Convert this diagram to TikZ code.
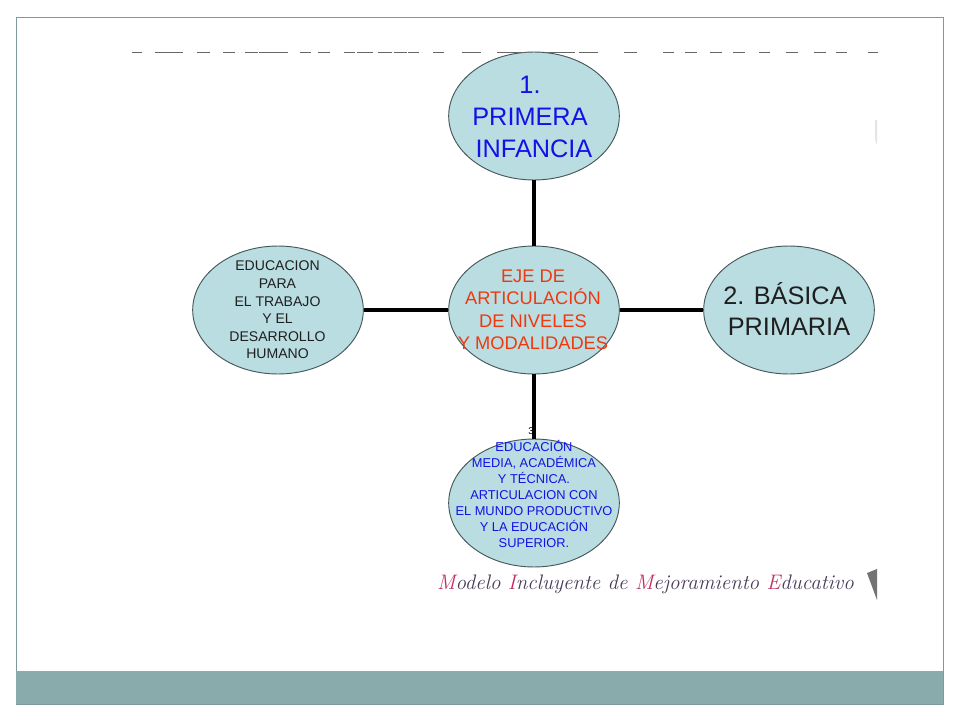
\documentclass[tikz,border=0pt]{standalone}
\usepackage{fontspec}
\setmainfont{Liberation Sans}
\newfontfamily\captionfont{Latin Modern Roman}
\usepackage{tikz}
\usetikzlibrary{shapes.geometric}
\definecolor{bubblefill}{HTML}{B9DDE1}
\definecolor{bubbleline}{HTML}{47585A}
\definecolor{framecolor}{HTML}{7F9A9C}
\definecolor{bandcolor}{HTML}{8AABAB}
\definecolor{bluetext}{HTML}{1212E6}
\definecolor{redtext}{HTML}{F0380F}
\definecolor{pinktext}{HTML}{C22F63}
\definecolor{darktext}{HTML}{4A3A5A}
\newcommand{\sz}[2]{\fontsize{#1}{#2}\selectfont}
\tikzset{
  bubble/.style={ellipse, draw=bubbleline, line width=1pt, fill=bubblefill,
    minimum width=6.4cm, minimum height=4.8cm, inner sep=0pt},
  spoke/.style={line width=4.2pt, black},
  cut/.style={line width=0.8pt, black!60},
  bigtext/.style={align=center, inner sep=0pt, font=\sz{27}{34}},
  midtext/.style={align=center, inner sep=0pt, font=\sz{19.5}{24}},
  lefttext/.style={align=center, inner sep=0pt, font=\sz{15}{18.8}},
  lowtext/.style={align=center, inner sep=0pt, font=\sz{13.7}{17}}
}
\begin{document}
\begin{tikzpicture}[x=0.0375cm, y=-0.0375cm]
  \useasboundingbox (0,0) rectangle (960,720);
  \fill[white] (0,0) rectangle (960,720);
  % frame and band
  \draw[framecolor, line width=1pt] (16,17) rectangle (943,704);
  \fill[bandcolor] (16,671) rectangle (943,704);
  % bubbles
  \coordinate (numthree) at (531,431);
  \node [bubble] (mid) at (534,310) {};
  \node [bubble] (top) at (534,116) {};
  \node [bubble] (right) at (789,310) {};
  \node [bubble] (left) at (278,310) {};
  \node [bubble] (low) at (534,503) {};
  \draw[spoke] (top) -- (mid);
  \draw[spoke] (mid) -- (right);
  \draw[spoke] (left) -- (mid);
  \draw[spoke] (mid) -- (low);
  % what is left of the cut off title
  \foreach \a/\b in {132/142,155/183,197/210,223/235,245/258,259/288,300/311,318/330,344/355,357/373,378/392,394/407,408/419,433/444,462/481,497/527,545/575,579/598,624/637,663/674,685/697,710/722,733/745,759/770,786/798,814/826,836/847,868/878}
    \draw[cut] (\a,52) -- (\b,52);
  % bits of the cut off picture
  \fill[black!55] (867,573) -- (877,569) -- (877,600) -- cycle;
  \fill[black!10] (875,120) -- (877,120) -- (877,145) -- (875,140) -- cycle;
  % texts
  \node [bigtext, text=bluetext] (toplabel) at (530,117) {1.\\PRIMERA\\\hspace*{8.5pt}INFANCIA};
  \node [midtext, text=redtext] (midlabel) at (533,310) {EJE DE\\ARTICULACIÓN\\DE NIVELES\\Y MODALIDADES};
  \node [bigtext, text=black!88] (rightlabel) at (785,309) {2. BÁSICA\\\hspace*{8.5pt}PRIMARIA};
  \node [lefttext, text=black!88] (leftlabel) at (277.5,310) {EDUCACION\\PARA\\EL TRABAJO\\Y EL\\DESARROLLO\\HUMANO};
  \node [inner sep=0pt, font=\sz{10.5}{11}] (three) at (numthree) {3};
  \node [lowtext, text=bluetext] (lowlabel) at (534,494) {EDUCACIÓN\\MEDIA, ACADÉMICA\\Y TÉCNICA.\\ARTICULACION CON\\EL MUNDO PRODUCTIVO\\Y LA EDUCACIÓN\\SUPERIOR.};
  % caption
  \node [inner sep=0pt, text=darktext, font=\sz{22.4}{26}\captionfont\itshape] (caption) at (645.5,584) {\textcolor{pinktext}{M}odelo \textcolor{pinktext}{I}ncluyente de \textcolor{pinktext}{M}ejoramiento \textcolor{pinktext}{E}ducativo};
\end{tikzpicture}
\end{document}
